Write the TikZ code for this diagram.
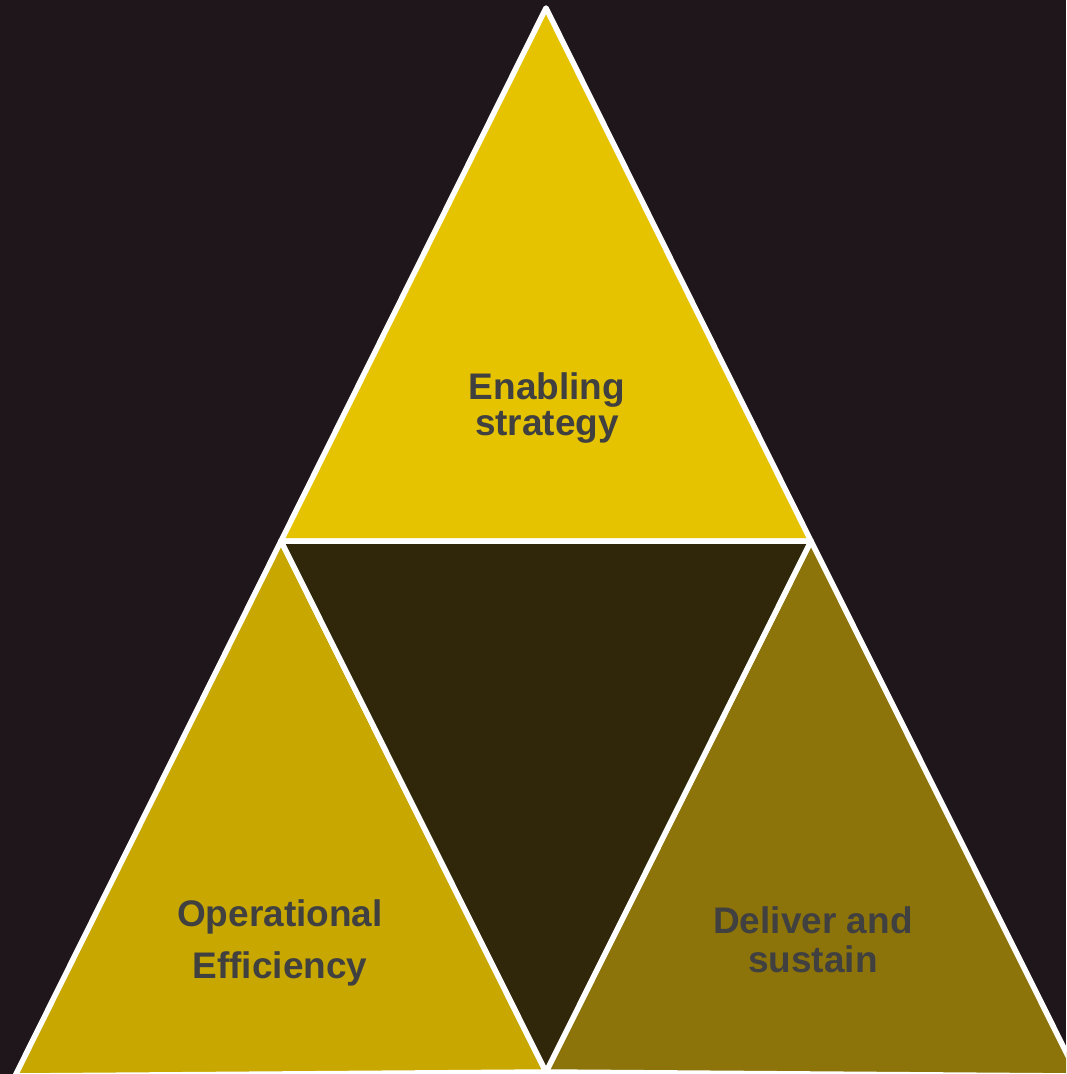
\documentclass[tikz,border=0pt]{standalone}
\usepackage{fontspec}
\setmainfont{Liberation Sans}
\definecolor{bgdark}{HTML}{1F161B}
\definecolor{topgold}{HTML}{E6C300}
\definecolor{leftgold}{HTML}{C8A800}
\definecolor{rightolive}{HTML}{8C740A}
\definecolor{centerdark}{HTML}{30270B}
\definecolor{labelgray}{HTML}{404040}
\begin{document}
\begin{tikzpicture}[x=1pt,y=-1pt,
  facet/.style={draw=white,line width=5.5pt,line join=round},
  label/.style={anchor=base,inner sep=0pt,text=labelgray,
    font=\fontsize{37}{37}\selectfont\bfseries}]
  \useasboundingbox (0,0) rectangle (1066,1074);
  \fill[bgdark] (0,0) rectangle (1066,1074);
  \clip (0,0) rectangle (1066,1074);
  % corner points of the pyramid
  \coordinate (T)  at (546,8);
  \coordinate (L)  at (281,541);
  \coordinate (R)  at (811,541);
  \coordinate (BL) at (15,1076);
  \coordinate (BM) at (546,1072);
  \coordinate (BR) at (1078,1076);
  % four facets
  \filldraw[facet,fill=topgold] (T) -- (R) -- (L) -- cycle;
  \filldraw[facet,fill=leftgold] (L) -- (BM) -- (BL) -- cycle;
  \filldraw[facet,fill=rightolive] (R) -- (BR) -- (BM) -- cycle;
  \filldraw[facet,fill=centerdark] (L) -- (R) -- (BM) -- cycle;
  % labels
  \node[label] (es1) at (547,399) {Enabling};
  \node[label] (es2) at (547,435) {strategy};
  \node[label] (oe1) at (280,926) {Operational};
  \node[label] (oe2) at (280,978) {Efficiency};
  \node[label] (ds1) at (813,933) {Deliver and};
  \node[label] (ds2) at (813,972) {sustain};
\end{tikzpicture}
\end{document}
